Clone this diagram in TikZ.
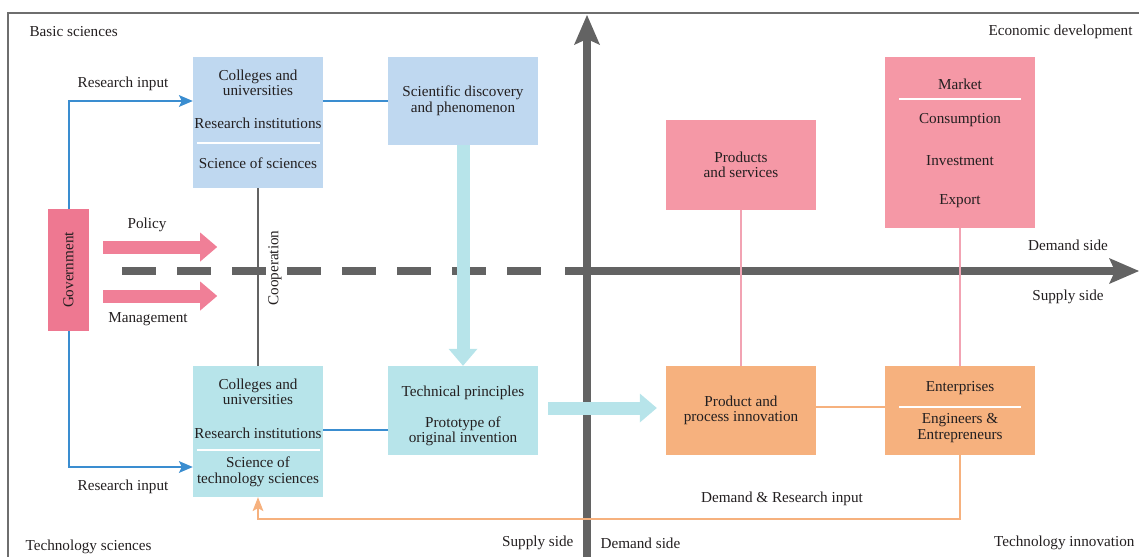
\documentclass[tikz,border=0pt]{standalone}
\usepackage{fontspec}
\setmainfont{Liberation Serif}
\usepackage{tikz}
\usetikzlibrary{arrows.meta,positioning}
\definecolor{basicblue}{HTML}{BFD8F0}
\definecolor{techcyan}{HTML}{B7E4EA}
\definecolor{marketpink}{HTML}{F598A6}
\definecolor{govpink}{HTML}{EE7891}
\definecolor{arrowpink}{HTML}{F07F97}
\definecolor{innoorange}{HTML}{F6B17E}
\definecolor{lineblue}{HTML}{3A8DD0}
\definecolor{pinkline}{HTML}{F2A3B3}
\definecolor{axisgray}{HTML}{636363}
\definecolor{framegray}{HTML}{6E6E6E}
\definecolor{textdark}{HTML}{231F20}

\begin{document}
\begin{tikzpicture}[x=1pt,y=-1pt,
    every node/.style={font=\fontsize{15.2}{15.5}\selectfont, text=textdark, align=center},
    box/.style={rectangle, fill=#1, minimum width=150pt, minimum height=89pt, inner sep=0pt, align=center},
    sepline/.style={draw=white, line width=1.6pt},
    bline/.style={draw=lineblue, line width=2pt},
    barrow/.style={bline, -{Stealth[length=14pt,width=12pt,inset=3pt,line width=0pt]}},
    fatarrow/.style={draw=#1, line width=13pt, -{Triangle[length=17pt,width=29pt,line width=0pt]}},
    axis/.style={draw=axisgray, line width=7.5pt},
    axisarrow/.style={axis, -{Stealth[length=30pt,width=26pt,inset=6pt,line width=0pt]}},
    pline/.style={draw=pinkline, line width=1.5pt},
    oline/.style={draw=innoorange, line width=2pt},
    oarrow/.style={oline, -{Stealth[length=14pt,width=11pt,inset=3pt,line width=0pt]}}]

    \useasboundingbox (0,0) rectangle (1139,557);

    % Frame and axes
    \draw[draw=framegray, line width=2.2pt] (1139,13) -- (8,13) -- (8,557);
    \draw[axisarrow] (587,557) -- (587,15);
    \draw[axis, dash pattern=on 34pt off 21pt] (122,271) -- (541,271);
    \draw[axisarrow] (565,271) -- (1139,271);

    % Nodes
    \node [box=govpink, minimum width=41pt, minimum height=122pt] (gov) at (68.5,270) {};
    \node [rotate=90] (govtext) at (gov.center) {Government};

    \node [box=basicblue, minimum width=130pt, minimum height=131pt] (basicinst) at (258,122.5) {};
    \node (basiccol) at (258,83) {Colleges and\\universities};
    \node (basicres) at (258,123) {Research institutions};
    \node (basicsos) at (258,163) {Science of sciences};
    \node [box=basicblue, minimum height=88pt] (discovery) at (463,101) {Scientific discovery\\and phenomenon};

    \node [box=techcyan, minimum width=130pt, minimum height=131pt] (techinst) at (258,431.5) {};
    \node (techcol) at (258,392) {Colleges and\\universities};
    \node (techres) at (258,433) {Research institutions};
    \node (techsos) at (258,472) {Science of\\technology sciences};
    \node [box=techcyan, below of=discovery, node distance=309.5pt] (principle) {};
    \node (principletext) at (463,416) {Technical principles\\[15.5pt]Prototype of\\original invention};

    \node [box=marketpink, minimum height=90pt] (products) at (741,165) {Products\\and services};
    \node [box=marketpink, minimum height=171pt] (market) at (960,142.5) {};
    \node (markettext) at (960,84) {Market};
    \node (consumption) at (960,120) {Consumption};
    \node (investment) at (960,161) {Investment};
    \node (export) at (960,201) {Export};

    \node [box=innoorange] (innovation) at (741,410.5) {Product and\\process innovation};
    \node [box=innoorange, right of=innovation, node distance=219pt] (enterprise) {};
    \node (enttext) at (960,388) {Enterprises};
    \node (engineers) at (960,428) {Engineers \&\\Entrepreneurs};

    % Separators
    \draw [sepline] (197,143) -- (320,143);
    \draw [sepline] (197,450) -- (320,450);
    \draw [sepline] (899,99) -- (1021,99);
    \draw [sepline] (899,407) -- (1021,407);

    % Arrows
    \draw [barrow] (gov.north) |- ([yshift=21.5pt]basicinst.west);
    \draw [barrow] (gov.south) |- ([yshift=-35.5pt]techinst.west);
    \draw [bline] (basicinst.east |- discovery) -- (discovery.west);
    \draw [bline] ([yshift=1.5pt]techinst.east) -- ([yshift=-19.5pt]principle.west);
    \draw [draw=axisgray, line width=1.5pt] (basicinst.south) -- (techinst.north);
    \draw [fatarrow=arrowpink] ([shift={(14,-23)}]gov.east) -- ++(114,0);
    \draw [fatarrow=arrowpink] ([shift={(14,26)}]gov.east) -- ++(114,0);
    \draw [fatarrow=techcyan] (discovery.south) -- (principle.north);
    \draw [fatarrow=techcyan, shorten <=10pt, shorten >=9pt] ([yshift=2.5pt]principle.east) -- ([yshift=2.5pt]innovation.west);
    \draw [pline] (products.south) -- (innovation.north);
    \draw [pline] (market.south) -- (enterprise.north);
    \draw [oline] ([yshift=3.5pt]innovation.east) -- ([yshift=3.5pt]enterprise.west);
    \draw [oarrow] (enterprise.south) -- ++(0,64) -| (techinst.south);

    % Labels
    \node (inputtop) at (123,84) {Research input};
    \node (inputbot) at (123,487) {Research input};
    \node (policy) at (147,225) {Policy};
    \node (management) at (148,319) {Management};
    \node [rotate=90] (cooperation) at (275,268) {Cooperation};
    \node (demandinput) at (782,499) {Demand \& Research input};
    \node [anchor=west] (basic) at (26,32) {Basic sciences};
    \node [anchor=east] (economic) at (1136,32) {Economic development};
    \node (demandright) at (1068,245) {Demand side};
    \node (supplyright) at (1068,297) {Supply side};
    \node [anchor=west] (techsci) at (22,547) {Technology sciences};
    \node [anchor=east] (supplybot) at (577,543) {Supply side};
    \node [anchor=west] (demandbot) at (597,543) {Demand side};
    \node [anchor=east] (techinno) at (1138,543) {Technology innovation};

\end{tikzpicture}
\end{document}
